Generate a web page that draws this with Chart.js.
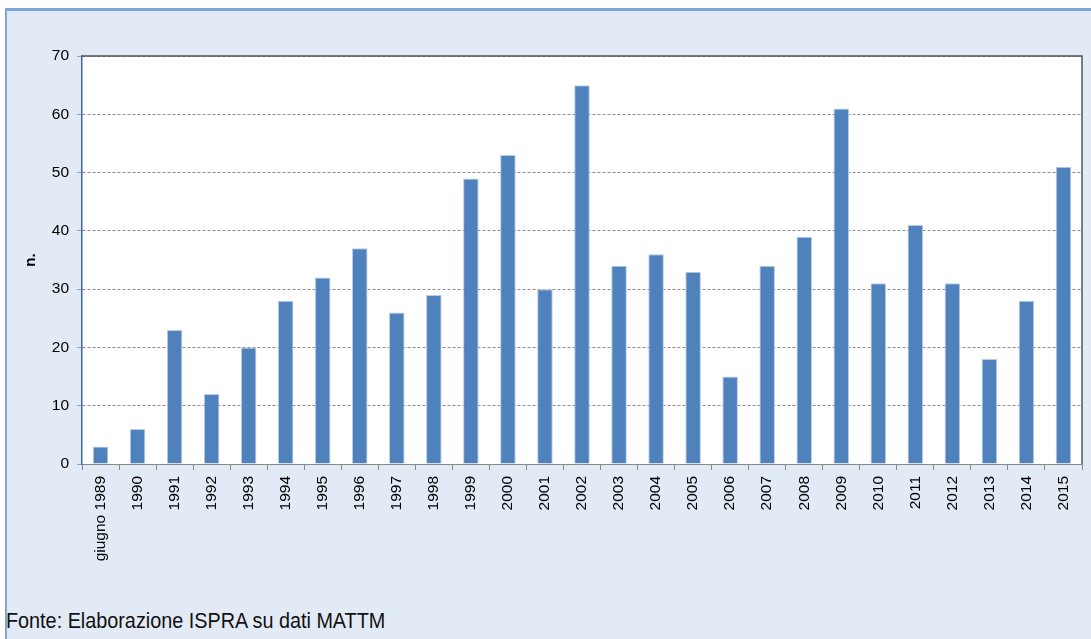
<!DOCTYPE html>
<html><head><meta charset="utf-8">
<script src="https://cdn.jsdelivr.net/npm/chart.js@4.4.1/dist/chart.umd.min.js"></script>
<style>
html,body{margin:0;padding:0;width:1091px;height:639px;overflow:hidden;background:#fff;}
#frame{position:absolute;left:5px;top:8px;width:1086px;height:631px;background:#e2eaf5;border-left:2px solid #7fa6d7;border-top:3px solid #7fa6d7;box-sizing:border-box;}
#wrap{position:absolute;left:0;top:0;width:1091px;height:600px;}
#src{position:absolute;left:6px;top:608px;font-family:"Liberation Sans",Arial,sans-serif;font-size:22px;color:#111;white-space:nowrap;transform:scaleX(0.9);transform-origin:0 0;}
</style></head>
<body>
<div id="frame"></div>
<div id="wrap"><canvas id="c" width="1091" height="600"></canvas></div>
<div id="src">Fonte: Elaborazione ISPRA su dati MATTM</div>
<script>
const categories = ["giugno 1989","1990","1991","1992","1993","1994","1995","1996","1997","1998","1999","2000","2001","2002","2003","2004","2005","2006","2007","2008","2009","2010","2011","2012","2013","2014","2015"];
const values = [3,6,23,12,20,28,32,37,26,29,49,53,30,65,34,36,33,15,34,39,61,31,41,31,18,28,51];
const yTicks = [0,10,20,30,40,50,60,70];

const plotBg = {
  id:'plotBg',
  beforeDraw(chart){
    const {ctx, chartArea:a} = chart;
    ctx.save(); ctx.fillStyle='#ffffff';
    ctx.fillRect(a.left,a.top,a.right-a.left,a.bottom-a.top);
    ctx.restore();
  },
  afterDraw(chart){
    const {ctx, chartArea:a} = chart;
    ctx.save(); ctx.strokeStyle='#555'; ctx.lineWidth=1.5;
    ctx.beginPath(); ctx.moveTo(a.left,a.top); ctx.lineTo(a.right,a.top); ctx.lineTo(a.right,a.bottom); ctx.stroke();
    ctx.restore();
  }
};

new Chart(document.getElementById('c'), {
  type:'bar',
  data:{labels:categories, datasets:[{data:values, backgroundColor:'#4f81bd', borderColor:'#b9cde6', borderWidth:{top:1,left:1,right:1,bottom:0}, barPercentage:0.42, categoryPercentage:1}]},
  options:{
    responsive:false, animation:false, devicePixelRatio:1,
    layout:{padding:{left:22,top:56,right:9,bottom:0}},
    plugins:{legend:{display:false}, tooltip:{enabled:false}},
    scales:{
      x:{
        grid:{drawOnChartArea:false, drawTicks:true, tickLength:6, color:'#888', offset:true},
        border:{color:'#888', width:1},
        ticks:{color:'#000', font:{family:'Liberation Sans', size:15.5}, minRotation:90, maxRotation:90, autoSkip:false, padding:6},
        afterFit(s){ s.height = 600-464; }
      },
      y:{
        min:0, max:70,
        afterBuildTicks(s){ s.ticks = yTicks.map(v=>({value:v})); },
        grid:{color:'#8c8c8c', tickLength:5, tickColor:'#7fa6d7', drawTicks:true, tickBorderDash:[]},
        border:{color:'#3a67a3', width:1.5, dash:[3,2]},
        ticks:{color:'#000', font:{family:'Liberation Sans', size:15.5}, padding:8},
        title:{display:true, text:'n.', color:'#000', font:{family:'Liberation Sans', size:15, weight:'bold'}, padding:{top:0,bottom:0}},
        afterFit(s){ s.width = 82-22; }
      }
    }
  },
  plugins:[plotBg]
});
</script>
</body></html>
